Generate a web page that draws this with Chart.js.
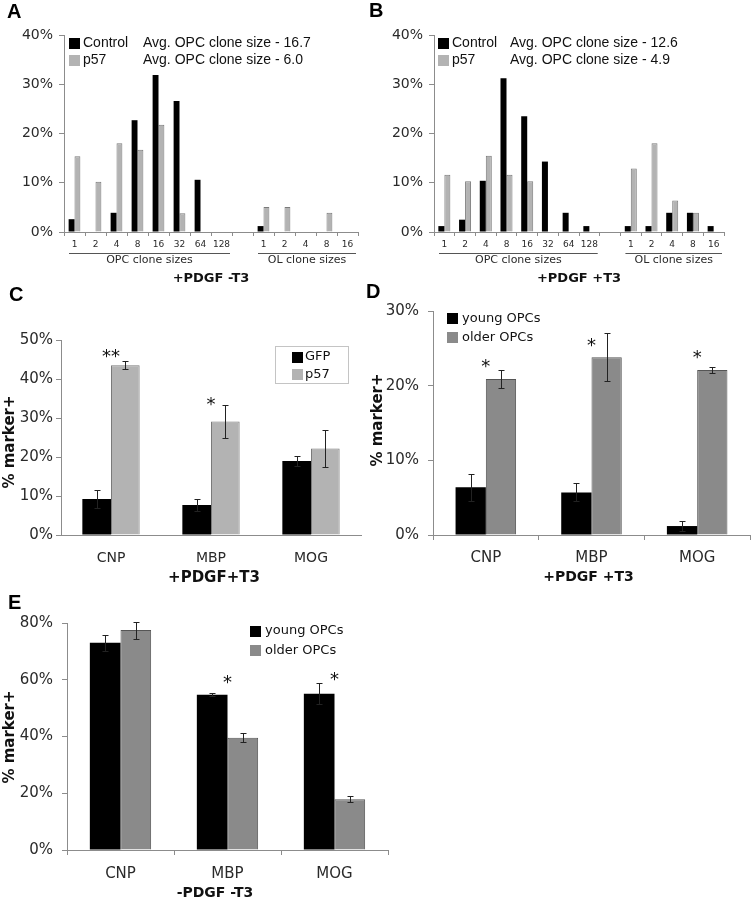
<!DOCTYPE html>
<html>
<head>
<meta charset="utf-8">
<script src="https://cdn.jsdelivr.net/npm/chart.js@4.4.0/dist/chart.umd.min.js"></script>
<style>
  body { margin: 0; background: #fff; }
  #page { position: relative; width: 751px; height: 899px; overflow: hidden; background: #fff; }
  #page canvas { position: absolute; }
  .letter { position: absolute; font: bold 20px 'Liberation Sans', Arial, sans-serif; line-height: 20px; color: #000; }
</style>
</head>
<body>
<div id="page">
  <canvas id="cA"></canvas>
  <canvas id="cB"></canvas>
  <canvas id="cC"></canvas>
  <canvas id="cD"></canvas>
  <canvas id="cE"></canvas>
  <div class="letter" style="left:7px;top:1px">A</div>
  <div class="letter" style="left:369px;top:0px">B</div>
  <div class="letter" style="left:9px;top:284px">C</div>
  <div class="letter" style="left:366px;top:281px">D</div>
  <div class="letter" style="left:8px;top:592px">E</div>
</div>
<script>
// ---- data (percent of clones / cells) ----
const cloneSizes = ['1', '2', '4', '8', '16', '32', '64', '128', '', '1', '2', '4', '8', '16'];

const aControl = [2.6, 0, 3.9, 22.7, 31.9, 26.6, 10.6, 0, null, 1.2, 0, 0, 0, 0];
const aP57     = [15.4, 10.2, 18.0, 16.7, 21.8, 3.8, 0, 0, null, 5.1, 5.1, 0, 3.9, 0];

const bControl = [1.2, 2.5, 10.4, 31.2, 23.5, 14.3, 3.9, 1.2, null, 1.2, 1.2, 3.9, 3.9, 1.2];
const bP57     = [11.6, 10.3, 15.5, 11.6, 10.3, 0, 0, 0, null, 12.9, 18.0, 6.4, 3.9, 0];

const markers = ['CNP', 'MBP', 'MOG'];

const cGFP = [9.2, 7.7, 19.0];
const cGFPErr = [2.3, 1.5, 1.3];
const cP57 = [43.5, 29.1, 22.2];
const cP57Err = [1.0, 4.2, 4.8];
const cStars = ['**', '*', ''];
const cStarAt = [46.7, 34.4, null];

const dYoung = [6.4, 5.7, 1.2];
const dYoungErr = [1.8, 1.2, 0.7];
const dOlder = [20.9, 23.8, 22.1];
const dOlderErr = [1.2, 3.2, 0.4];
const dStars = ['*', '*', '*'];
const dStarAt = [23.0, 25.8, 24.2];

const eYoung = [73.0, 54.7, 55.1];
const eYoungErr = [2.9, 0.5, 3.7];
const eOlder = [77.5, 39.6, 17.9];
const eOlderErr = [3.0, 1.5, 1.0];
const eStars = ['', '*', '*'];
const eStarAt = [null, 60.4, 61.4];

// ---- styles ----
const BLACK = '#000000';
const LIGHT = '#b3b3b3', LIGHT_EDGE = '#7a7a7a';
const MID = '#8a8a8a', MID_EDGE = '#555555';
const AXIS = '#8c8c8c';
const TEXT = '#2a2a2a';
const SANS = "'DejaVu Sans', Verdana, sans-serif";
const ARIAL = "'Liberation Sans', Arial, sans-serif";

// paired bars touch each other: whole pair takes `pct` of a category
function bars(data, fill, edge, pct) {
  return {
    data: data,
    backgroundColor: fill,
    borderColor: edge || fill,
    borderWidth: edge ? 1 : 0,
    barPercentage: 1,
    categoryPercentage: pct
  };
}

// draw error whiskers on each bar of the given datasets
function errorBars(chart, errs) {
  const ctx = chart.ctx, y = chart.scales.y;
  ctx.save();
  ctx.strokeStyle = '#222';
  ctx.lineWidth = 1;
  errs.forEach((err, di) => {
    if (!err) return;
    chart.getDatasetMeta(di).data.forEach((bar, i) => {
      const v = chart.data.datasets[di].data[i];
      const top = Math.round(y.getPixelForValue(v + err[i])) + 0.5;
      const bot = Math.round(y.getPixelForValue(v - err[i])) + 0.5;
      const x = Math.round(bar.x) + 0.5;
      ctx.beginPath();
      ctx.moveTo(x, top); ctx.lineTo(x, bot);
      ctx.moveTo(x - 3, top); ctx.lineTo(x + 3, top);
      ctx.moveTo(x - 3, bot); ctx.lineTo(x + 3, bot);
      ctx.stroke();
    });
  });
  ctx.restore();
}

function stars(chart, marks, at) {
  const ctx = chart.ctx;
  ctx.save();
  ctx.fillStyle = '#111';
  ctx.font = '18px ' + SANS;
  ctx.textAlign = 'center';
  ctx.textBaseline = 'alphabetic';
  marks.forEach((m, i) => {
    if (!m) return;
    const x = chart.scales.x.getPixelForValue(i);
    const y = chart.scales.y.getPixelForValue(at[i]);
    ctx.fillText(m, x, y + 9);
  });
  ctx.restore();
}

function key(ctx, items, x, y, dy, font, textX) {
  ctx.save();
  items.forEach((it, i) => {
    const cy = y + i * dy;
    ctx.fillStyle = it.fill;
    ctx.fillRect(x, Math.round(cy - 5.5), 11, 11);
    ctx.fillStyle = '#111';
    ctx.font = font;
    ctx.textAlign = 'left';
    ctx.textBaseline = 'middle';
    ctx.fillText(it.label, textX, cy);
  });
  ctx.restore();
}

function text(ctx, s, x, y, font, align, color) {
  ctx.save();
  ctx.font = font;
  ctx.fillStyle = color || TEXT;
  ctx.textAlign = align || 'center';
  ctx.textBaseline = 'middle';
  ctx.fillText(s, x, y);
  ctx.restore();
}

function yLabel(ctx, s, x, y) {
  ctx.save();
  ctx.translate(x, y);
  ctx.rotate(-Math.PI / 2);
  ctx.font = 'bold 15px ' + SANS;
  ctx.fillStyle = '#111';
  ctx.textAlign = 'center';
  ctx.textBaseline = 'middle';
  ctx.fillText(s, 0, 0);
  ctx.restore();
}

// box = canvas placement on the page, area = wanted plot area on the page
function panel(opt) {
  const box = opt.box, area = opt.area;
  const cv = document.getElementById(opt.id);
  cv.style.left = box.left + 'px';
  cv.style.top = box.top + 'px';
  cv.width = box.width;
  cv.height = box.height;

  return new Chart(cv.getContext('2d'), {
    type: 'bar',
    data: { labels: opt.labels, datasets: opt.datasets },
    options: {
      responsive: false,
      animation: false,
      events: [],
      layout: {
        autoPadding: false,
        padding: { left: 0, bottom: 0, top: area.top - box.top, right: box.left + box.width - area.right }
      },
      plugins: { legend: { display: false }, tooltip: { enabled: false } },
      scales: {
        x: Object.assign({
          afterFit: s => { s.height = box.top + box.height - area.bottom; },
          border: { color: AXIS }
        }, opt.x),
        y: {
          min: 0,
          max: opt.yMax,
          afterFit: s => { s.width = area.left - box.left; },
          ticks: {
            stepSize: opt.yStep,
            callback: v => v + '%',
            font: { family: SANS, size: opt.yFont },
            color: TEXT,
            padding: opt.yPad
          },
          grid: { drawOnChartArea: false, tickLength: 5, color: AXIS },
          border: { color: AXIS }
        }
      }
    },
    plugins: [{
      id: 'extras' + opt.id,
      afterDatasetsDraw: chart => {
        const ctx = chart.ctx;
        opt.local && opt.local(chart);
        ctx.save();
        ctx.translate(-box.left, -box.top);
        opt.page && opt.page(ctx, chart);
        ctx.restore();
      }
    }]
  });
}

// clone size histogram axis: ticks at boundaries, two underlined groups
function cloneAxis() {
  return {
    grid: { offset: true, drawOnChartArea: false, tickLength: 4, color: AXIS },
    ticks: { font: { family: SANS, size: 9 }, color: TEXT, padding: 3, autoSkip: false, maxRotation: 0 }
  };
}

function cloneGroups(chart, title) {
  const ctx = chart.ctx, x = chart.scales.x, ca = chart.chartArea;
  const w = x.getPixelForValue(1) - x.getPixelForValue(0);
  const groups = [[0, 7, 'OPC clone sizes'], [9, 13, 'OL clone sizes']];
  ctx.save();
  ctx.strokeStyle = '#555';
  ctx.lineWidth = 1;
  groups.forEach(g => {
    const x0 = x.getPixelForValue(g[0]) - w / 2 + 5;
    const x1 = x.getPixelForValue(g[1]) + w / 2 - 2;
    const ly = Math.round(ca.bottom + 21) + 0.5;
    ctx.beginPath(); ctx.moveTo(x0, ly); ctx.lineTo(x1, ly); ctx.stroke();
    text(ctx, g[2], (x0 + x1) / 2, ca.bottom + 28, '11px ' + SANS);
  });
  ctx.restore();
  text(ctx, title, (ca.left + ca.right) / 2, ca.bottom + 47, 'bold 13px ' + SANS, 'center', '#111');
}

// ---- A ----
panel({
  id: 'cA',
  box: { left: 0, top: 20, width: 375, height: 270 },
  area: { left: 64, right: 358, top: 35, bottom: 232 },
  labels: cloneSizes,
  datasets: [bars(aControl, BLACK, null, 0.56), bars(aP57, LIGHT, LIGHT_EDGE, 0.56)],
  x: cloneAxis(),
  yMax: 40, yStep: 10, yFont: 14, yPad: 6,
  local: chart => cloneGroups(chart, '+PDGF -T3'),
  page: ctx => {
    key(ctx, [{ label: 'Control', fill: BLACK }, { label: 'p57', fill: LIGHT }], 69, 43, 17.5, '14px ' + ARIAL, 83);
    text(ctx, 'Avg. OPC clone size - 16.7', 143, 43, '14px ' + ARIAL, 'left', '#111');
    text(ctx, 'Avg. OPC clone size - 6.0', 143, 60.5, '14px ' + ARIAL, 'left', '#111');
  }
});

// ---- B ----
panel({
  id: 'cB',
  box: { left: 375, top: 20, width: 376, height: 270 },
  area: { left: 434, right: 724, top: 35, bottom: 232 },
  labels: cloneSizes,
  datasets: [bars(bControl, BLACK, null, 0.58), bars(bP57, LIGHT, LIGHT_EDGE, 0.58)],
  x: cloneAxis(),
  yMax: 40, yStep: 10, yFont: 14, yPad: 6,
  local: chart => cloneGroups(chart, '+PDGF +T3'),
  page: ctx => {
    key(ctx, [{ label: 'Control', fill: BLACK }, { label: 'p57', fill: LIGHT }], 438, 43, 17.5, '14px ' + ARIAL, 452);
    text(ctx, 'Avg. OPC clone size - 12.6', 510, 43, '14px ' + ARIAL, 'left', '#111');
    text(ctx, 'Avg. OPC clone size - 4.9', 510, 60.5, '14px ' + ARIAL, 'left', '#111');
  }
});

// ---- C ----
panel({
  id: 'cC',
  box: { left: 0, top: 300, width: 375, height: 290 },
  area: { left: 61, right: 361, top: 340, bottom: 535 },
  labels: markers,
  datasets: [bars(cGFP, BLACK, null, 0.573), bars(cP57, LIGHT, LIGHT_EDGE, 0.573)],
  x: {
    grid: { display: false },
    ticks: { font: { family: SANS, size: 14 }, color: TEXT, padding: 7 }
  },
  yMax: 50, yStep: 10, yFont: 15, yPad: 3,
  local: chart => {
    errorBars(chart, [cGFPErr, cP57Err]);
    stars(chart, cStars, cStarAt);
    const ca = chart.chartArea;
    text(chart.ctx, '+PDGF+T3', (ca.left + ca.right) / 2 + 3, ca.bottom + 43, 'bold 15px ' + SANS, 'center', '#111');
  },
  page: ctx => {
    ctx.save();
    ctx.strokeStyle = '#c4c4c4';
    ctx.strokeRect(275.5, 346.5, 73, 37);
    ctx.restore();
    key(ctx, [{ label: 'GFP', fill: BLACK }, { label: 'p57', fill: LIGHT }], 292, 357, 17.5, '13px ' + SANS, 305);
    yLabel(ctx, '% marker+', 10, 442);
  }
});

// ---- D ----
panel({
  id: 'cD',
  box: { left: 365, top: 290, width: 386, height: 300 },
  area: { left: 433, right: 750, top: 311, bottom: 535 },
  labels: markers,
  datasets: [bars(dYoung, BLACK, null, 0.573), bars(dOlder, MID, MID_EDGE, 0.573)],
  x: {
    grid: { offset: true, drawOnChartArea: false, tickLength: 5, color: AXIS },
    ticks: { font: { family: SANS, size: 15 }, color: TEXT, padding: 9 }
  },
  yMax: 30, yStep: 10, yFont: 15, yPad: 9,
  local: chart => {
    errorBars(chart, [dYoungErr, dOlderErr]);
    stars(chart, dStars, dStarAt);
    const ca = chart.chartArea;
    text(chart.ctx, '+PDGF +T3', (ca.left + ca.right) / 2 - 3, ca.bottom + 42, 'bold 14px ' + SANS, 'center', '#111');
  },
  page: ctx => {
    key(ctx, [{ label: 'young OPCs', fill: BLACK }, { label: 'older OPCs', fill: MID }], 447, 318.5, 19, '13px ' + SANS, 462);
    yLabel(ctx, '% marker+', 378, 420);
  }
});

// ---- E ----
panel({
  id: 'cE',
  box: { left: 0, top: 595, width: 420, height: 304 },
  area: { left: 67, right: 388, top: 623, bottom: 850 },
  labels: markers,
  datasets: [bars(eYoung, BLACK, null, 0.573), bars(eOlder, MID, MID_EDGE, 0.573)],
  x: {
    grid: { offset: true, drawOnChartArea: false, tickLength: 5, color: AXIS },
    ticks: { font: { family: SANS, size: 15 }, color: TEXT, padding: 10 }
  },
  yMax: 80, yStep: 20, yFont: 15, yPad: 9,
  local: chart => {
    errorBars(chart, [eYoungErr, eOlderErr]);
    stars(chart, eStars, eStarAt);
  },
  page: ctx => {
    key(ctx, [{ label: 'young OPCs', fill: BLACK }, { label: 'older OPCs', fill: MID }], 250, 631, 19.5, '13px ' + SANS, 265);
    yLabel(ctx, '% marker+', 10, 737);
    text(ctx, '-PDGF -T3', 215, 893, 'bold 14px ' + SANS, 'center', '#111');
  }
});
</script>
</body>
</html>
